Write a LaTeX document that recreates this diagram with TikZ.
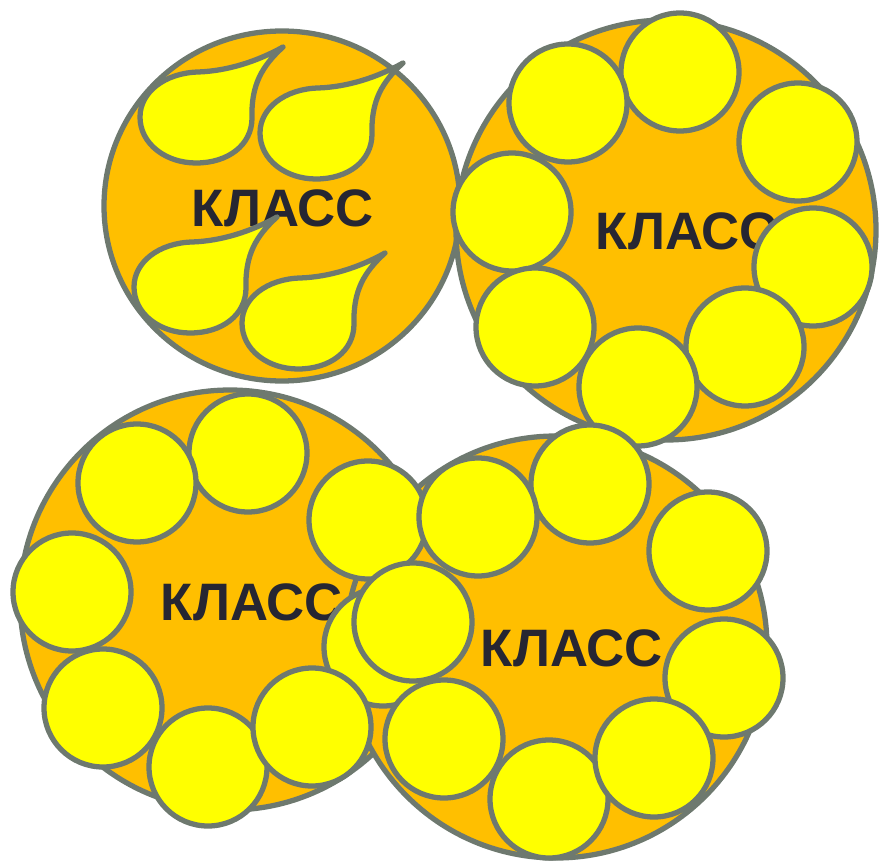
\documentclass[tikz,border=0pt]{standalone}
\usepackage{fontspec}
\setmainfont{Liberation Sans}
\definecolor{klassorange}{RGB}{255,191,0}
\definecolor{klassyellow}{RGB}{255,255,0}
\definecolor{klassline}{RGB}{110,121,111}
\definecolor{klasstext}{RGB}{38,38,50}
\tikzset{
	bigring/.style={fill=klassorange,draw=klassline,line width=3pt},
	ball/.style={fill=klassyellow,draw=klassline,line width=3pt},
	drip/.style={fill=klassyellow,draw=klassline,line width=3pt,line join=round},
	klass/.style={text=klasstext,font=\fontsize{30}{31}\selectfont\bfseries,inner sep=0pt}
}
% a drop, given by the point of its tip
\newcommand{\raindrop}[2]{\draw[drip,shift={(#1,#2)}] (0,0) .. controls (-25,14) and (-55,24) .. (-85,25) .. controls (-118,26) and (-143,45) .. (-143,70) .. controls (-143,97) and (-117,116) .. (-87,116) .. controls (-55,116) and (-31,98) .. (-31,71) .. controls (-32,38) and (-21,19) .. (0,0) -- cycle;}

\begin{document}
\begin{tikzpicture}[x=0.02cm,y=-0.02cm]
		\useasboundingbox (0,0) rectangle (879,865);
		% the four classes
		\draw[bigring] (282,206) ellipse [x radius=178,y radius=175];
		\draw[bigring] (666,230) circle (210);
		\draw[bigring] (230,600) circle (210);
		\draw[bigring] (556,647) circle (211);
		\node[klass] (t1) at (283,208) {КЛАСС};
		\node[klass] (t2) at (687,231) {КЛАСС};
		\node[klass] (t3) at (252,602) {КЛАСС};
		\node[klass] (t4) at (572,648) {КЛАСС};
		% drops
		\raindrop{283}{47}
		\raindrop{403}{63}
		\raindrop{277}{217}
		\raindrop{385}{253}
		% top right
		\fill[gray!70] (565,233) circle (4);
		\draw[ball] (680,72) circle (59);
		\draw[ball] (798,142) circle (59);
		\draw[ball] (813,267) circle (59);
		\draw[ball] (745,347) circle (59);
		\draw[ball] (638,387) circle (59);
		\draw[ball] (512,212) circle (59);
		\draw[ball] (535,327) circle (59);
		\draw[ball] (568,103) circle (59);
		% bottom left
		\draw[ball] (248,453) circle (59);
		\draw[ball] (137,483) circle (59);
		\draw[ball] (368,520) circle (59);
		\draw[ball] (72,592) circle (59);
		\draw[ball] (103,708) circle (59);
		\draw[ball] (208,767) circle (59);
		\draw[ball] (383,647) circle (59);
		\draw[ball] (312,727) circle (59);
		% bottom right
		\draw[ball] (590,484) circle (59);
		\draw[ball] (708,551) circle (59);
		\draw[ball] (724,678) circle (59);
		\draw[ball] (478,517) circle (59);
		\draw[ball] (413,622) circle (59);
		\draw[ball] (444,739) circle (59);
		\draw[ball] (549,799) circle (59);
		\draw[ball] (654,758) circle (59);
	\end{tikzpicture}
\end{document}
